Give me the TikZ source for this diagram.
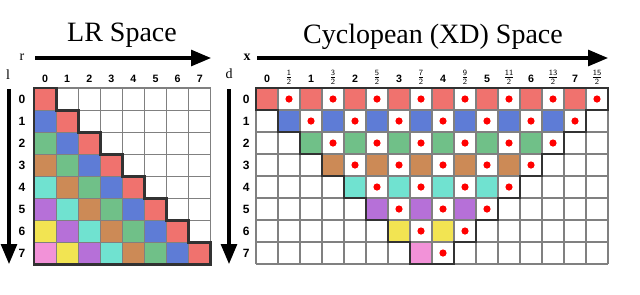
\documentclass[tikz,border=0pt]{standalone}
\usepackage{fontspec}
\setmainfont{Liberation Serif}
\newfontfamily\labfont{Liberation Sans}
\usetikzlibrary{arrows.meta}
\definecolor{c0}{RGB}{240,114,110}
\definecolor{c1}{RGB}{94,124,214}
\definecolor{c2}{RGB}{112,192,136}
\definecolor{c3}{RGB}{204,138,86}
\definecolor{c4}{RGB}{112,226,208}
\definecolor{c5}{RGB}{182,112,216}
\definecolor{c6}{RGB}{242,228,82}
\definecolor{c7}{RGB}{242,146,216}
\definecolor{gridgray}{RGB}{128,128,128}
\definecolor{bordergray}{RGB}{50,50,50}
\tikzset{
  gridline/.style={draw=gridgray,line width=0.8pt},
  outline/.style={draw=bordergray,line width=2.2pt,line join=miter},
  axisarrow/.style={line width=2.3pt,-{Triangle[length=15pt,width=12pt]}},
  collab/.style={font=\labfont\bfseries\fontsize{8}{9}\selectfont,inner sep=0pt},
  rowlab/.style={font=\labfont\bfseries\fontsize{9}{10}\selectfont,inner sep=0pt},
  fraclab/.style={font=\fontsize{9}{10}\selectfont,inner sep=0pt},
  axlab/.style={font=\fontsize{10.5}{11}\selectfont,inner sep=0pt},
  title/.style={font=\fontsize{21}{24}\selectfont,inner sep=0pt,anchor=base},
  dot/.style={fill=red,draw=none}
}
\begin{document}
\begin{tikzpicture}[x=0.75pt,y=-0.75pt]
\useasboundingbox (0,0) rectangle (640,294);
% titles
\node[title] (t1) at (122,41) {LR Space};
\node[title] (t2) at (433,43) {Cyclopean (XD) Space};
% axes
\coordinate (ra) at (35,58); \coordinate (rb) at (211,58);
\coordinate (xa) at (257,58); \coordinate (xb) at (608,58);
\coordinate (la) at (9,89); \coordinate (lb) at (9,264);
\coordinate (da) at (229,89); \coordinate (db) at (229,264);
\draw[axisarrow] (ra) -- (rb);
\draw[axisarrow] (xa) -- (xb);
\draw[axisarrow] (la) -- (lb);
\draw[axisarrow] (da) -- (db);
\node[axlab] (rl) at (22,57) {r};
\node[axlab] (ll) at (8,75) {l};
\node[axlab] (dl) at (229,74) {d};
\node[axlab,font=\bfseries\fontsize{10.5}{11}\selectfont] (xl) at (247,57) {x};
% LR grid
\begin{scope}[xshift=25.5pt,yshift=-66pt,x=16.575pt,y=-16.575pt]
  \foreach \l in {0,...,7}{
    \foreach \r in {0,...,\l}{
      \pgfmathtruncatemacro\c{\l-\r}
      \fill[c\c] (\r,\l) rectangle ++(1,1);
    }
  }
  \foreach \i in {0,...,8}{
    \draw[gridline] (\i,0) -- (\i,8);
    \draw[gridline] (0,\i) -- (8,\i);
  }
  \draw[outline] (0,0) -| (1,1) -| (2,2) -| (3,3) -| (4,4) -| (5,5) -| (6,6) -| (7,7) -| (8,8) -- (0,8) -- cycle;
  \foreach \r in {0,...,7}{
    \node[collab] (lrc\r) at (\r+0.5,-0.41) {\r};
  }
  \foreach \l in {0,...,7}{
    \node[rowlab] (lrr\l) at (-0.54,\l+0.5) {\l};
  }
\end{scope}
% XD grid
\begin{scope}[xshift=192pt,yshift=-66pt,x=16.5pt,y=-16.5pt]
  \foreach \d in {0,...,7}{
    \pgfmathtruncatemacro\e{15-\d}
    \foreach \k in {\d,...,\e}{
      \pgfmathtruncatemacro\p{mod(\k-\d,2)}
      \ifnum\p=0
        \fill[c\d] (\k,\d) rectangle ++(1,1);
      \else
        \fill[dot] (\k+0.5,\d+0.5) circle (2.7pt);
      \fi
    }
  }
  \foreach \i in {0,...,16}{
    \draw[gridline] (\i,0) -- (\i,8);
  }
  \foreach \i in {0,...,8}{
    \draw[gridline] (0,\i) -- (16,\i);
  }
  \draw[outline] (0,0) |- (1,1) |- (2,2) |- (3,3) |- (4,4) |- (5,5) |- (6,6) |- (7,7) -- (7,8) -- (9,8) |- (10,7) |- (11,6) |- (12,5) |- (13,4) |- (14,3) |- (15,2) |- (16,1) -- (16,0) -- cycle;
  \foreach \k in {0,...,15}{
    \pgfmathtruncatemacro\p{mod(\k,2)}
    \pgfmathtruncatemacro\h{\k/2}
    \ifnum\p=0
      \node[collab] (xdc\k) at (\k+0.5,-0.41) {\h};
    \else
      \node[fraclab] (xdc\k) at (\k+0.5,-0.5) {$\frac{\mathsf{\k}}{\mathsf{2}}$};
    \fi
  }
  \foreach \d in {0,...,7}{
    \node[rowlab] (xdr\d) at (-0.45,\d+0.5) {\d};
  }
\end{scope}
\end{tikzpicture}
\end{document}
